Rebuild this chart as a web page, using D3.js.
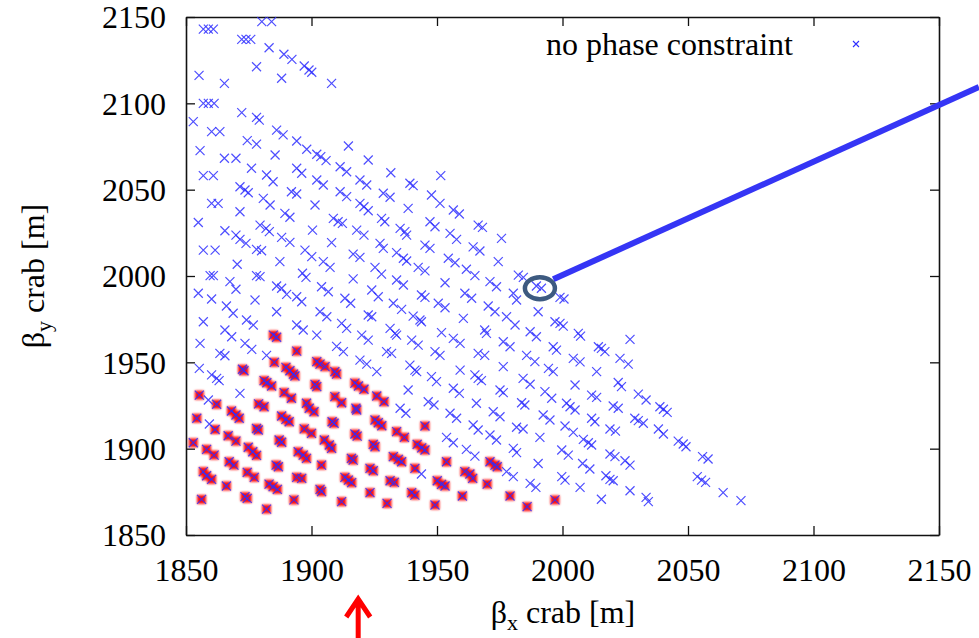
<!DOCTYPE html>
<html>
<head>
<meta charset="utf-8">
<script src="https://cdn.jsdelivr.net/npm/d3@7"></script>
<style>
  body { margin: 0; background: #fff; }
  svg text { font-family: "Liberation Serif", "Times New Roman", Times, serif; fill: #000; }
</style>
</head>
<body>
<svg id="chart" width="979" height="638"></svg>
<script>
// Axis ranges and tick labels
const xDomain = [1850, 2150];
const yDomain = [1850, 2150];
const xTicks = [1850, 1900, 1950, 2000, 2050, 2100, 2150];
const yTicks = [1850, 1900, 1950, 2000, 2050, 2100, 2150];

const xTitle = "crab [m]";
const yTitle = "crab [m]";
const legendLabel = "no phase constraint";

// Solutions found without the phase constraint only (beta_x, beta_y)
const freeOnly = [
  [1880.2,2147.3],[1884.1,2147.3],[1856.9,2143],[1858.9,2143],[1860.9,2143],[1872.2,2137],[1873.9,2137],[1875.8,2137],
  [1883.1,2132.2],[1889,2128.4],[1892.2,2125.5],[1897.1,2121.6],[1899,2119.3],[1900.1,2118],[1908,2111.6],[1878.1,2121.2],
  [1888.1,2114.5],[1855.2,2116.2],[1865.3,2111.6],[1856.9,2100],[1858.9,2100],[1861.2,2100],[1852.9,2089.4],[1872.2,2094.6],
  [1878.1,2091.9],[1879.2,2090.3],[1860.2,2083.6],[1863.5,2083.6],[1886.1,2084.5],[1888.7,2081.7],[1894.1,2078.2],[1898.1,2073.4],
  [1902.1,2070.5],[1903.7,2069.1],[1905.8,2066.8],[1911.4,2063.3],[1914,2060.4],[1919.3,2055.6],[1922,2052.7],[1914.7,2075.3],
  [1922.6,2067.2],[1874.4,2078.4],[1878.1,2076.4],[1855.6,2072.6],[1865.3,2068.2],[1869.9,2068.2],[1876.1,2062.4],[1882.1,2058.5],
  [1884.7,2054.6],[1894.1,2062.4],[1896.1,2059.5],[1885.5,2070.1],[1856.9,2058.1],[1860.9,2058.1],[1902.1,2055.6],[1904.7,2052.7],
  [1931.6,2059.8],[1939.2,2053.7],[1940.5,2052.3],[1951.5,2058.1],
  [1871.5,2051.7],[1873.5,2049.8],[1874.8,2048.2],[1892,2048.8],[1894.1,2047.5],[1911.4,2048.8],[1914,2046],[1919.3,2042.1],
  [1920.9,2040.1],[1922.6,2037.8],[1860.2,2042.1],[1862.8,2042.1],[1871.5,2037.2],[1880.8,2045],[1883.5,2041.1],[1901.4,2041.1],
  [1889.4,2036.3],[1891.4,2034],[1908.7,2033.4],[1910.6,2031.4],[1912.3,2030.5],[1854.9,2031],[1865.5,2026.2],[1879.5,2029.5],
  [1881.9,2027.6],[1883.2,2025.7],[1900.4,2026.6],[1888.1,2022.4],[1891.4,2019.5],[1918,2026.6],[1920.9,2023.7],[1869.9,2023.7],
  [1871.5,2021.2],[1873.9,2018.9],[1908,2019.3],[1856.9,2015],[1861.6,2015],[1878.1,2015.4],[1880.1,2014.6],[1897.4,2015],
  [1900.1,2011.2],[1916.6,2012.7],[1919.3,2010.8],[1887.4,2008.3],[1904.7,2008.3],[1907.4,2005],[1870.4,2006.8],[1859.6,2000.2],
  [1860.9,2000.2],[1878.1,2000.2],[1879.5,1999.6],[1896.4,2001.6],[1897.8,1999.2],[1916.6,1998.3],[1867.5,1996.7],[1869.9,1992.3],
  [1886.1,1994.2],[1888.1,1992.9],[1890.1,1989.4],[1904,1993.8],[1906.7,1990.9],[1854.9,1990],[1860.2,1986.7],[1877.5,1986.1],
  [1894.1,1988],[1896.1,1985.1],[1913.3,1987.1],[1915.6,1984.2],[1866.1,1982.6],[1868.8,1978.4],[1886.1,1979.3],[1903.4,1979.3],
  [1906.1,1976.4],[1856.9,1973.5],[1874.1,1974.5],[1876.8,1971.6],[1894.1,1971.6],[1896.7,1968.7],[1912,1972.6],[1914,1969.7],
  [1865.5,1968.7],[1868.2,1964.8],[1902.1,1965.8],[1920,1965.8],[1922.6,1962.9],[1855.6,1961],[1873.5,1961],[1876.2,1957.5],
  [1910,1959.2],[1912.7,1956.2],[1863.5,1955.2],[1865.5,1953.8],[1882.1,1954],
  [1928.6,2047.9],[1931.3,2045.6],[1947.8,2046.9],[1951.2,2042.1],[1938.5,2039.2],[1956.5,2038.2],[1958.9,2035.9],[1927.9,2033.4],
  [1929.2,2031.4],[1947.2,2031.4],[1949.2,2028.5],[1966.4,2029.5],[1968.1,2028.2],[1935.3,2027.6],[1937.2,2025.7],[1937.9,2023.7],
  [1955.2,2024.7],[1957.8,2021.2],[1975.7,2021.8],[1927.3,2018.9],[1928.6,2016],[1945.2,2017.9],[1947.2,2016],[1964.4,2016.9],
  [1967.1,2014.5],[1933.9,2013.5],[1936.6,2010.3],[1937.9,2008.7],[1954.5,2010.3],[1957.2,2007.7],[1974.4,2008.3],[1925.3,2005],
  [1927.9,2001.1],[1942.5,2005],[1945.2,2003],[1961.7,2003.9],[1965.1,2000.2],[1982.4,2000.5],[1984.4,1999.2],[1933.9,1997.7],
  [1936.6,1994.8],[1953.2,1996.1],[1971.1,1996.7],[1973.7,1993.8],[1989.6,1994.2],[1991.6,1992.9],[1924,1991.9],[1926.6,1988],
  [1943.8,1989],[1945.2,1987.6],[1961.1,1990],[1963.8,1987.1],[1980.4,1990],[1981.7,1986.1],[1999,1987.6],[2000.6,1986.7],
  [1932.6,1984.2],[1935.9,1980.7],[1950.5,1984.2],[1953.2,1981.6],[1970.4,1982.6],[1973.1,1979.3],[1990.3,1979.3],[1922.6,1977.4],
  [1924,1976.4],[1940.5,1976.8],[1943.2,1974.5],[1943.8,1973.5],[1960.5,1975.5],[1977.7,1976.4],[1981.1,1971.6],[1997,1973.5],
  [1999,1972.6],[2000.3,1971],[1931.3,1969.7],[1933.3,1966.8],[1933.9,1965.8],[1951.8,1967.2],[1969,1968.7],[1969.7,1966.8],
  [1987.1,1967.7],[1989.6,1964.8],[1939.9,1962.9],[1942.5,1960],[1956.5,1963.9],[1959.2,1961],[1976.4,1961.9],[1979.1,1959],
  [1996.3,1959],[1997.6,1957.1],[1929.9,1956.2],[1931.9,1955.2],[1949.2,1956.2],[1951.2,1954],[1966.4,1955.2],[1969,1954],
  [1985.7,1954],
  [2006.3,1966.8],[2007.2,1965.2],[2014.3,1959],[2015.5,1958.1],[2016.9,1956.2],[2026.9,1963.3],[2004.3,1952.3],[2007,1950.3],
  [2022.9,1952.3],[2026.2,1949],[2013.6,1944.6],[2005,1936.9],[2022.2,1938.3],[2023.5,1935.9],[2030.2,1931.6],[2033.3,1928.2],
  [2038.8,1924.3],[2040.2,1922.8],[2041.7,1921],[2011.6,1931],[2013.6,1929.7],[2001.6,1926.3],[2003,1924.3],[2005,1922.4],
  [2020.2,1924.7],[2022.2,1923.4],[2011.6,1917.6],[2012.9,1915.6],[2028.8,1917.6],[2030.2,1916.2],[2032.2,1914.7],[2001,1913.1],
  [2004.3,1909.4],[2018.9,1911.4],[2021.1,1910.2],[2038.2,1911.4],[2040.2,1908.5],[2046.1,1904.4],[2048.1,1902.7],[2049.2,1901.1],
  [2008.3,1905.4],[2010.3,1903.4],[2011.6,1902.1],[1999.7,1899.2],[2002.3,1896.3],[2018.9,1896.9],[2020.9,1895.4],[2024.9,1893],
  [2026.9,1890.5],[2055.8,1895.4],[2058,1894],[2008,1891.4],[2010.9,1888.2],[1999.7,1883.8],[2001,1881.8],[2017.3,1884.3],
  [2018.9,1882.2],[2020.2,1881.4],[2053.7,1883.8],[2055.4,1881.8],[2057,1880.5],[2007,1877.6],[2026.9,1875.6],[2064,1874.5],
  [2015.5,1870.7],[2033.3,1871.8],[2034.2,1869.3],[2071.1,1869.9],
  [1989,1950.4],[1939.2,1948.4],[1941.2,1945.5],[1941.9,1944.6],[1959.2,1945.5],[1965.1,1942.7],[1966.4,1940.7],[1967.7,1939.4],
  [1976.4,1947.5],[1984.3,1940.7],[1987.1,1937.3],[1994.4,1946.5],[1996.3,1944.6],[1947.8,1941.7],[1949.8,1938.8],[1938.5,1934],
  [1956.5,1935],[1958.9,1932],[1975.1,1934],[1976.4,1932.5],[1993,1933],[1995.7,1929.2],[1946.5,1927.2],[1948.8,1925.3],
  [1965.7,1926.3],[1983.7,1926.6],[1985,1925.3],[1935.3,1923.4],[1937.6,1920.5],[1955.2,1920.5],[1957.8,1917.6],[1972.4,1921.4],
  [1975.1,1918.5],[1992.3,1919.5],[1995,1916.6],[1964.4,1913.7],[1966.4,1910.8],[1981.7,1912.4],[1984.3,1911.4],[1971.1,1907.9],
  [1973.7,1905],[1953.8,1906.5],[1956.5,1903.4],[1991,1906.5],[1961.7,1899.6],[1965.1,1895.7],[1980.4,1900.2],[1981.7,1897.7],
  [1977.7,1886.7],[1980.4,1883.8],[1990.3,1891.4],[1987.1,1879.9],[1989.4,1877.6],[1943.8,1885.3],
  [1919.3,1951.3],[1922,1949],[1926,1944.6],[1855.3,1946.5],[1860.2,1942.7],[1862.2,1940.7],[1863.2,1939.4],[1858.9,1928.2],
  [1871.5,1932],[1859.3,1914.3]
];

// Solutions that also satisfy the phase constraint
const withPhase = [
  [1884.8,1965.8],[1886.1,1964.5],[1894.1,1956.5],
  [1885.2,1950],[1872.5,1946],[1873.1,1945.1],[1881.1,1939.4],[1882.2,1938.2],[1884.1,1936.3],
  [1889.8,1947.1],[1891.4,1945.1],[1892.8,1943.2],[1893.4,1942.1],[1902.1,1950.4],[1903.4,1949],[1905.4,1947.5],
  [1909.3,1944.6],[1910,1943.2],[1901.4,1937.2],[1902.1,1935.9],[1909.3,1930.1],[1912,1926.6],[1889.1,1932.5],[1892,1929.2],
  [1917.3,1938],[1918.7,1936.3],[1920.9,1934.4],[1855.3,1931],[1862.2,1925.7],[1878.9,1925.9],[1881.1,1924.3],
  [1898,1926.3],[1899.1,1923.4],[1901,1921.4],[1917.7,1923.4],[1918,1922.4],[1868.1,1921.8],[1869.9,1919.5],[1871.2,1917.6],
  [1888.1,1918.9],[1889.8,1917],[1891.1,1915.6],[1854.3,1917.6],[1861.6,1911.1],[1878.1,1911.7],[1878.8,1910.8],
  [1897.1,1911.5],[1900,1908.9],[1908.2,1915.6],[1909,1914.7],[1852.9,1903.4],[1866.8,1907.5],[1869.9,1904.4],
  [1887.1,1905],[1888.1,1903.7],[1905.1,1905],[1907.1,1902.1],[1908,1900.2],[1917.3,1908.5],[1918.2,1907.3],
  [1858.2,1899.6],[1861.2,1896.3],[1874.8,1900.8],[1876.6,1898.2],[1878.1,1896.1],[1894.7,1898.2],[1896.7,1896.3],[1898,1894.4],
  [1924.6,1902.5],[1925.3,1901.1],[1867.2,1892.4],[1869.1,1890.5],[1885.9,1890.5],[1886.8,1889.5],[1904,1890.5],
  [1915.9,1894.4],[1916.6,1893.4],[1856.9,1886.7],[1858.2,1884.3],[1860.2,1882.2],[1874.4,1886.3],[1877.2,1883.4],
  [1894.1,1883.4],[1896.1,1882.8],[1913.3,1883.4],[1914.7,1881.8],[1916,1880.3],[1923.3,1888.6],[1924.6,1887.2],
  [1866.1,1878.4],[1883.1,1879.5],[1884.7,1878],[1886.4,1876.4],[1903.4,1876.4],[1904,1875.1],[1923.3,1874.5],
  [1856.2,1870.6],[1873.5,1872.2],[1874.4,1871.2],[1893,1870.3],[1912,1869.3],[1882.1,1865],
  [1926,1930.5],[1928.9,1927.2],[1925.3,1916.6],[1926.6,1915],[1928,1913.3],[1945.2,1913.1],[1933.9,1909.9],[1937,1906.5],
  [1942.1,1902.5],[1943.9,1900.5],[1945.2,1899.2],[1953.8,1892.4],[1932.6,1895.4],[1934.6,1893.8],[1935.9,1892.4],
  [1971.1,1892.4],[1973.1,1890.5],[1974,1889.5],[1941.2,1888.6],[1961.1,1886.7],[1963.1,1885.3],[1964.2,1882.8],
  [1931.3,1881.4],[1933,1880.5],[1950.1,1881.4],[1951.8,1879.3],[1953.2,1878.4],[1970,1879.5],[1939.9,1874.5],[1941.2,1873.1],
  [1960.1,1872.6],[1979.1,1872.6],[1997,1870.3],[1930.1,1868.3],[1949.2,1867.4],[1985.9,1866.4]
];

// Highlighted solution and its pointer line (pointer runs off the right edge)
const highlight = [1991.0, 1992.9];
const pointerFrom = [1996.3, 1998.1];
const pointerTo = [2165.9, 2109.5];
// Marker arrow below the x axis
const arrowAt = 1918.6;

const FONT = "Liberation Serif, Times New Roman, serif";
const svg = d3.select("#chart");
const W = 979, H = 638;
const x = d3.scaleLinear().domain(xDomain).range([186, 939]);
const y = d3.scaleLinear().domain(yDomain).range([535, 17]);

const defs = svg.append("defs");
defs.append("filter").attr("id", "soft")
  .attr("x", "-50%").attr("y", "-50%").attr("width", "200%").attr("height", "200%")
  .append("feGaussianBlur").attr("stdDeviation", 0.8);

// Axes with inward ticks on all four sides
const tickLen = 9;
const gBottom = svg.append("g").attr("transform", `translate(0,${y(yDomain[0])})`)
  .call(d3.axisBottom(x).tickValues(xTicks).tickSize(-tickLen).tickSizeOuter(0).tickFormat(d3.format("d")));
const gTop = svg.append("g").attr("transform", `translate(0,${y(yDomain[1])})`)
  .call(d3.axisTop(x).tickValues(xTicks).tickSize(-tickLen).tickSizeOuter(0).tickFormat(""));
const gLeft = svg.append("g").attr("transform", `translate(${x(xDomain[0])},0)`)
  .call(d3.axisLeft(y).tickValues(yTicks).tickSize(-tickLen).tickSizeOuter(0).tickFormat(d3.format("d")));
const gRight = svg.append("g").attr("transform", `translate(${x(xDomain[1])},0)`)
  .call(d3.axisRight(y).tickValues(yTicks).tickSize(-tickLen).tickSizeOuter(0).tickFormat(""));

[gBottom, gTop, gLeft, gRight].forEach(g => {
  g.select(".domain").attr("stroke", "#111").attr("stroke-width", 1.6);
  g.selectAll(".tick line").attr("stroke", "#111").attr("stroke-width", 1.3);
});
gBottom.selectAll(".tick text")
  .attr("y", 46).attr("dy", 0)
  .attr("font-size", 32).attr("font-family", FONT).attr("fill", "#000");
gLeft.selectAll(".tick text")
  .attr("x", -20).attr("dy", "0.34em")
  .attr("font-size", 32).attr("font-family", FONT).attr("fill", "#000");

// Phase-constrained solutions: red squares
const sq = 9;
svg.append("g").attr("filter", "url(#soft)")
  .selectAll("rect").data(withPhase).join("rect")
  .attr("x", d => x(d[0]) - sq / 2).attr("y", d => y(d[1]) - sq / 2)
  .attr("width", sq).attr("height", sq)
  .attr("fill", "#ff1010");

// All solutions: blue crosses
const cross = "M-4.5,-4.5L4.5,4.5M-4.5,4.5L4.5,-4.5";
const allPoints = freeOnly.concat(withPhase);
svg.append("g")
  .selectAll("path").data(allPoints).join("path")
  .attr("d", cross)
  .attr("transform", d => `translate(${x(d[0])},${y(d[1])})`)
  .attr("fill", "none").attr("stroke", "#2f2fff").attr("stroke-width", 1.2).attr("stroke-opacity", 0.85);

// Pointer from the highlighted solution
svg.append("line")
  .attr("x1", x(pointerFrom[0])).attr("y1", y(pointerFrom[1]))
  .attr("x2", x(pointerTo[0])).attr("y2", y(pointerTo[1]))
  .attr("stroke", "#3535f5").attr("stroke-width", 6);
svg.append("ellipse")
  .attr("cx", x(highlight[0])).attr("cy", y(highlight[1]))
  .attr("rx", 15).attr("ry", 11)
  .attr("fill", "none").attr("stroke", "#3d5a80").attr("stroke-width", 4.5);

// Legend
svg.append("text")
  .attr("x", 793).attr("y", 55).attr("text-anchor", "end")
  .attr("font-family", FONT).attr("font-size", 32).text(legendLabel);
svg.append("path")
  .attr("d", "M-3,-3L3,3M-3,3L3,-3")
  .attr("transform", "translate(856,44)")
  .attr("fill", "none").attr("stroke", "#2f2fff").attr("stroke-width", 1.1);

// Axis titles
const xt = svg.append("text")
  .attr("x", 563).attr("y", 623).attr("text-anchor", "middle")
  .attr("font-family", FONT).attr("font-size", 32);
xt.append("tspan").text("β");
xt.append("tspan").attr("font-size", 22).attr("dy", 7).text("x");
xt.append("tspan").attr("dy", -7).text(" " + xTitle);

const yt = svg.append("text")
  .attr("transform", "translate(44,276) rotate(-90)")
  .attr("text-anchor", "middle").attr("font-family", FONT).attr("font-size", 32);
yt.append("tspan").text("β");
yt.append("tspan").attr("font-size", 22).attr("dy", 7).text("y");
yt.append("tspan").attr("dy", -7).text(" " + yTitle);

// Red marker arrow under the x axis
const ax = x(arrowAt);
svg.append("path")
  .attr("d", `M${ax},${H}L${ax},${599}M${ax - 12},${617}L${ax},${599}L${ax + 12},${617}`)
  .attr("fill", "none").attr("stroke", "#ff0000").attr("stroke-width", 5)
  .attr("stroke-linejoin", "miter").attr("stroke-linecap", "butt");
</script>
</body>
</html>
